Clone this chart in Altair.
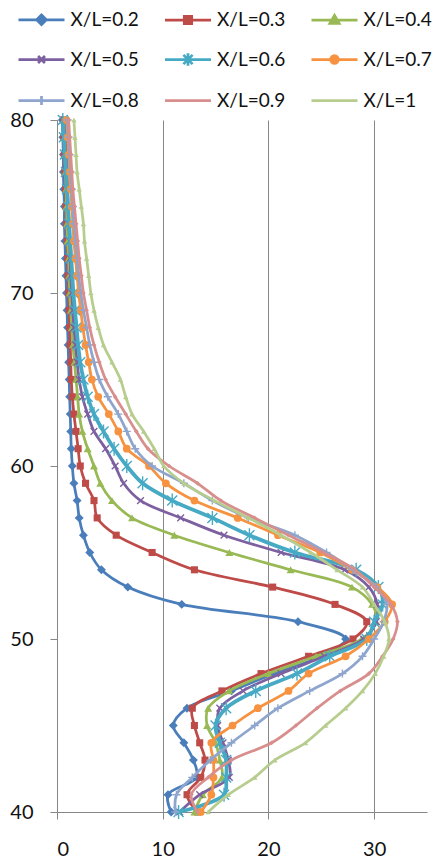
import altair as alt
import pandas as pd

# ---------------- data ----------------
y_levels = list(range(40, 81))

series_names = ["X/L=0.2", "X/L=0.3", "X/L=0.4", "X/L=0.5", "X/L=0.6",
                "X/L=0.7", "X/L=0.8", "X/L=0.9", "X/L=1"]

x_02 = [10.8, 10.5, 13.2, 12.9, 12.0, 11.0, 12.3, 16.5, 20.5, 25.0, 27.3,
        22.8, 11.8, 6.7, 4.2, 3.1, 2.5, 2.1, 1.9, 1.6, 1.45,
        1.35, 1.3, 1.25, 1.2, 1.15, 1.1, 1.05, 1.0, 0.95, 0.9,
        0.85, 0.8, 0.75, 0.7, 0.7, 0.65, 0.6, 0.6, 0.55, 0.5]
x_03 = [13.3, 12.3, 13.6, 14.0, 13.5, 13.0, 12.8, 15.6, 19.3, 23.8, 28.0,
        29.3, 26.3, 20.4, 13.0, 9.0, 5.6, 3.8, 3.5, 2.7, 2.2,
        2.0, 1.8, 1.6, 1.45, 1.35, 1.3, 1.25, 1.2, 1.15, 1.1,
        1.05, 1.0, 0.95, 0.9, 0.85, 0.8, 0.75, 0.7, 0.65, 0.6]
x_04 = [13.0, 13.8, 15.6, 15.4, 15.0, 14.2, 14.3, 16.3, 20.0, 24.5, 28.8,
        30.2, 29.8, 27.9, 22.1, 16.3, 11.1, 7.1, 5.2, 4.1, 3.5,
        2.9, 2.4, 2.1, 1.95, 1.8, 1.65, 1.5, 1.4, 1.3, 1.2,
        1.15, 1.1, 1.0, 0.95, 0.9, 0.85, 0.8, 0.75, 0.7, 0.65]
x_05 = [11.6, 13.5, 16.3, 16.2, 15.7, 15.2, 15.4, 17.6, 21.2, 25.3, 29.0,
        30.2, 30.3, 29.5, 27.2, 21.2, 15.8, 11.7, 7.9, 6.3, 5.5,
        4.6, 3.5, 2.9, 2.4, 2.1, 1.9, 1.75, 1.6, 1.5, 1.4,
        1.3, 1.25, 1.2, 1.1, 1.05, 1.0, 0.95, 0.9, 0.85, 0.8]
x_06 = [11.5, 15.8, 16.0, 16.0, 15.4, 15.0, 16.0, 18.8, 22.7, 25.8, 29.3,
        30.0, 30.8, 30.4, 28.3, 22.5, 18.2, 14.7, 10.9, 8.1, 6.6,
        5.4, 4.4, 3.5, 2.9, 2.5, 2.2, 2.0, 1.85, 1.7, 1.55,
        1.45, 1.35, 1.25, 1.15, 1.05, 0.95, 0.85, 0.75, 0.65, 0.55]
x_07 = [13.6, 14.6, 14.8, 14.8, 14.6, 16.6, 19.0, 21.9, 23.8, 27.3, 29.5,
        31.0, 31.7, 30.3, 27.9, 24.9, 20.9, 17.1, 13.0, 10.3, 8.7,
        6.6, 5.8, 4.9, 3.9, 3.3, 3.0, 2.7, 2.45, 2.25, 2.05,
        1.9, 1.75, 1.6, 1.5, 1.4, 1.3, 1.2, 1.1, 1.0, 0.9]
x_08 = [11.2, 11.3, 12.8, 14.5, 16.5, 18.7, 20.9, 23.9, 27.0, 28.9, 30.0,
        30.9, 31.2, 30.2, 28.0, 25.5, 22.5, 18.1, 14.7, 12.0, 9.0,
        7.4, 6.6, 5.8, 4.8, 4.0, 3.5, 3.1, 2.8, 2.5, 2.25,
        2.05, 1.9, 1.75, 1.6, 1.5, 1.4, 1.3, 1.2, 1.1, 1.0]
x_09 = [13.3, 12.7, 14.3, 16.5, 20.3, 22.6, 24.6, 26.8, 29.5, 30.8, 31.8,
        32.2, 31.6, 30.0, 28.2, 25.2, 21.9, 18.7, 15.5, 13.3, 10.6,
        8.6, 7.5, 6.5, 5.5, 4.6, 4.0, 3.5, 3.1, 2.8, 2.5,
        2.3, 2.1, 1.95, 1.8, 1.65, 1.5, 1.4, 1.3, 1.2, 1.1]
x_10 = [14.3, 16.2, 18.7, 20.6, 23.5, 25.4, 27.3, 28.9, 30.1, 30.9, 31.4,
        31.0, 30.0, 28.9, 26.5, 24.0, 21.2, 18.1, 14.9, 12.0, 10.1,
        9.2, 8.2, 7.1, 6.5, 6.0, 5.2, 4.4, 3.9, 3.5, 3.2,
        3.0, 2.8, 2.6, 2.5, 2.3, 2.1, 1.9, 1.8, 1.7, 1.6]

all_x = [x_02, x_03, x_04, x_05, x_06, x_07, x_08, x_09, x_10]

x_tick_values = [0, 10, 20, 30]
y_tick_values = [40, 50, 60, 70, 80]

# ---------------- styling ----------------
colors = ["#4A7EBB", "#BE4B48", "#98B954", "#7D60A0", "#46AAC5",
          "#F69240", "#8EA5CD", "#D78E8C", "#B7CD8E"]
line_widths = [2.75, 2.75, 2.75, 2.75, 3.75, 2.75, 2.75, 2.75, 2.75]

# plot markers: (shape, filled, size, strokeWidth)
markers = [
    ("diamond", True, 80, 1),
    ("square", True, 50, 1),
    ("triangle-up", True, 64, 1),
    ("M-1,-1L1,1M-1,1L1,-1", False, 45, 1.4),
    ("M-1,-1L1,1M-1,1L1,-1M0,-1.4V1.4", False, 100, 1.4),
    ("circle", True, 60, 1),
    ("M-1,0H1M0,-1V1", False, 64, 1.4),
    ("diamond", True, 22, 1),
    ("triangle-up", True, 30, 1),
]

legend_paths = [
    "M-2,0H2M0,-0.42L0.42,0L0,0.42L-0.42,0Z",
    "M-2,0H2M-0.32,-0.32H0.32V0.32H-0.32Z",
    "M-2,0H2M0,-0.4L0.4,0.3H-0.4Z",
    "M-2,0H2M-0.3,-0.3L0.3,0.3M-0.3,0.3L0.3,-0.3",
    "M-2,0H2M-0.4,-0.4L0.4,0.4M-0.4,0.4L0.4,-0.4M0,-0.55V0.55",
    "M-2,0H2M-0.33,0A0.33,0.33,0,1,0,0.33,0A0.33,0.33,0,1,0,-0.33,0Z",
    "M-2,0H2M0,-0.4V0.4",
    "M-2,0H2",
    "M-2,0H2",
]

rows = []
for name, xs in zip(series_names, all_x):
    for i, (yv, xv) in enumerate(zip(y_levels, xs)):
        rows.append({"series": name, "x": xv, "y": yv, "order": i})
df = pd.DataFrame(rows)

GRAY = "#878787"
FONT = "Lato"
TXT = "#111111"

x_enc = alt.X("x:Q", scale=alt.Scale(domain=[0, 35], nice=False, zero=False),
              axis=alt.Axis(values=x_tick_values, title=None, grid=True,
                            gridColor=GRAY, gridWidth=1, domainColor=GRAY,
                            tickColor=GRAY, tickSize=7, labelFont=FONT,
                            labelFontSize=20, labelColor=TXT, labelPadding=20,
                            format="d"))
y_enc = alt.Y("y:Q", scale=alt.Scale(domain=[40, 80], nice=False, zero=False),
              axis=alt.Axis(values=y_tick_values, title=None, grid=False,
                            domainColor=GRAY, tickColor=GRAY, tickSize=7,
                            labelFont=FONT, labelFontSize=20, labelColor=TXT,
                            labelPadding=17, format="d"))
color_scale = alt.Scale(domain=series_names, range=colors)

base = alt.Chart(df)

# dummy layer that only supplies the legend (no rows drawn)
legend_layer = base.mark_point(filled=True, strokeWidth=2.75, opacity=1).encode(
    x=x_enc, y=y_enc,
    fill=alt.Fill("series:N", scale=alt.Scale(domain=series_names, range=colors),
                  legend=alt.Legend(title=None)),
    stroke=alt.Stroke("series:N", scale=alt.Scale(domain=series_names, range=colors),
                      legend=alt.Legend(title=None)),
    shape=alt.Shape("series:N", scale=alt.Scale(domain=series_names, range=legend_paths),
                    legend=alt.Legend(title=None)),
).transform_filter("false")

layers = [legend_layer]
for name, (shape, filled, size, sw), lw in zip(series_names, markers, line_widths):
    sub = base.transform_filter(alt.datum.series == name)
    ln = sub.mark_line(strokeWidth=lw, interpolate="catmull-rom").encode(
        x=x_enc, y=y_enc,
        color=alt.Color("series:N", scale=color_scale, legend=None),
        order="order:Q",
    )
    pts = sub.mark_point(shape=shape, filled=filled, size=size, strokeWidth=sw,
                         opacity=1).encode(
        x=x_enc, y=y_enc,
        color=alt.Color("series:N", scale=color_scale, legend=None),
    )
    layers += [ln, pts]

chart = alt.layer(*layers).properties(
    width=370, height=692,
    autosize=alt.AutoSizeParams(type="none"),
    padding={"left": 49, "top": 112, "right": 6, "bottom": 52},
).configure_view(stroke=None).configure_legend(
    orient="none", legendX=-28.5, legendY=-113.5, columns=3, direction="horizontal",
    symbolSize=529, symbolStrokeWidth=2.75, labelFont=FONT, labelFontSize=19,
    labelColor=TXT, labelOffset=16, columnPadding=19.5, rowPadding=16,
    gridAlign="each", symbolOpacity=1, labelLimit=200,
)

chart.save("out.html", embed_options={"renderer": "svg", "actions": False})
